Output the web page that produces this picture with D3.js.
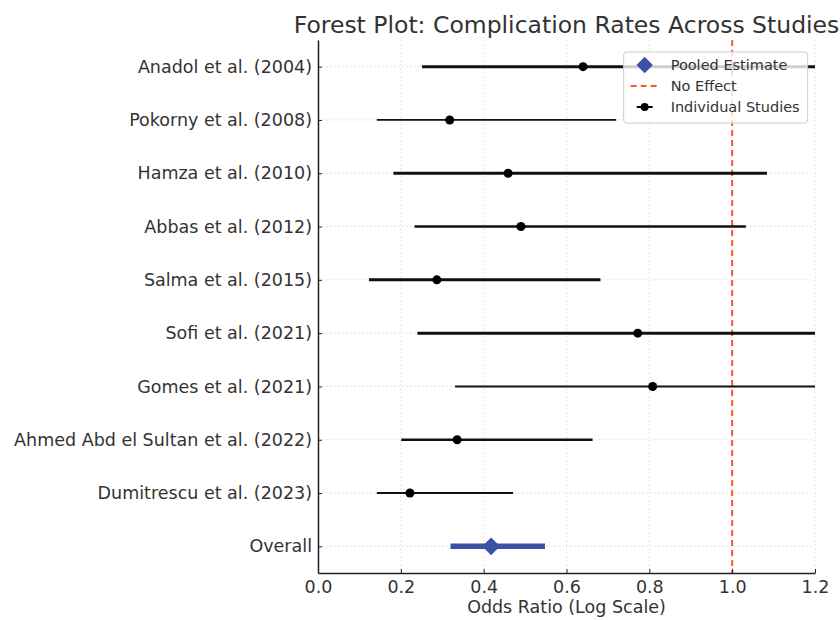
<!DOCTYPE html>
<html>
<head>
<meta charset="utf-8">
<script src="https://cdn.jsdelivr.net/npm/d3@7"></script>
<style>
  body { margin: 0; background: #fff; }
  text { font-family: "DejaVu Sans", sans-serif; fill: #333; }
</style>
</head>
<body>
<div id="chart"></div>
<script>
// studies, top to bottom
const studies = [
  "Anadol et al. (2004)",
  "Pokorny et al. (2008)",
  "Hamza et al. (2010)",
  "Abbas et al. (2012)",
  "Salma et al. (2015)",
  "Sofi et al. (2021)",
  "Gomes et al. (2021)",
  "Ahmed Abd el Sultan et al. (2022)",
  "Dumitrescu et al. (2023)"
];
const oddsRatio = [0.64, 0.318, 0.459, 0.49, 0.287, 0.772, 0.808, 0.336, 0.222];
const ciLower = [0.251, 0.142, 0.182, 0.233, 0.123, 0.24, 0.331, 0.201, 0.142];
const ciUpper = [1.62, 0.72, 1.084, 1.033, 0.682, 1.85, 1.95, 0.663, 0.471];
// relative study weight (drawn as line thickness)
const weights = [3, 1.8, 2.8, 2.5, 3, 3, 2, 2.5, 2];

const pooled = { label: "Overall", or: 0.418, lower: 0.32, upper: 0.548 };
const xTicks = [0, 0.2, 0.4, 0.6, 0.8, 1.0, 1.2];

const margin = { top: 40, right: 25, bottom: 47, left: 318 };
const W = 840, H = 620;
const width = W - margin.left - margin.right;
const height = H - margin.top - margin.bottom;

const svg = d3.select("#chart").append("svg")
  .attr("width", W).attr("height", H);

const g = svg.append("g")
  .attr("transform", `translate(${margin.left},${margin.top})`);

const x = d3.scaleLinear().domain([0, 1.2]).range([0, width]);
const y = d3.scalePoint()
  .domain([...studies, pooled.label])
  .range([0, height])
  .padding(0.5);
const lw = d3.scaleLinear().domain([1, 3]).range([1, 3]);

svg.append("defs").append("clipPath").attr("id", "clip")
  .append("rect").attr("width", width).attr("height", height);

// grid
const grid = g.append("g");
grid.selectAll(".vg").data(xTicks).join("line")
  .attr("x1", d => x(d)).attr("x2", d => x(d))
  .attr("y1", 0).attr("y2", height)
  .attr("stroke", "#ddd").attr("stroke-width", 0.8).attr("stroke-dasharray", "2,2");
grid.selectAll(".hg").data(y.domain()).join("line")
  .attr("x1", 0).attr("x2", width)
  .attr("y1", d => y(d)).attr("y2", d => y(d))
  .attr("stroke", "#ddd").attr("stroke-width", 0.8).attr("stroke-dasharray", "2,2");

const plot = g.append("g").attr("clip-path", "url(#clip)");

// no-effect line
plot.append("line")
  .attr("x1", x(1)).attr("x2", x(1))
  .attr("y1", 0).attr("y2", height)
  .attr("stroke", "#ff5533").attr("stroke-width", 2)
  .attr("stroke-dasharray", "6,4");

const rows = studies.map((s, i) => ({
  name: s, or: oddsRatio[i], lo: ciLower[i], hi: ciUpper[i], w: weights[i]
}));

plot.selectAll(".ci").data(rows).join("line")
  .attr("x1", d => x(d.lo)).attr("x2", d => x(d.hi))
  .attr("y1", d => y(d.name)).attr("y2", d => y(d.name))
  .attr("stroke", "#111").attr("stroke-width", d => lw(d.w));

plot.selectAll(".pt").data(rows).join("circle")
  .attr("cx", d => x(d.or)).attr("cy", d => y(d.name))
  .attr("r", 4.5).attr("fill", "#000");

// pooled estimate
const blue = "#3a52a6";
plot.append("line")
  .attr("x1", x(pooled.lower)).attr("x2", x(pooled.upper))
  .attr("y1", y(pooled.label)).attr("y2", y(pooled.label))
  .attr("stroke", blue).attr("stroke-width", 5.5);
plot.append("path")
  .attr("d", d3.symbol(d3.symbolDiamond2, 200)())
  .attr("transform", `translate(${x(pooled.or)},${y(pooled.label)})`)
  .attr("fill", blue);

// axes
const xAxis = g.append("g")
  .attr("transform", `translate(0,${height})`)
  .call(d3.axisBottom(x).tickValues(xTicks).tickFormat(d3.format(".1f"))
    .tickSizeInner(-4).tickSizeOuter(0).tickPadding(8));
const yAxis = g.append("g")
  .call(d3.axisLeft(y).tickSizeInner(-4).tickSizeOuter(0).tickPadding(6));

[xAxis, yAxis].forEach(a => {
  a.select(".domain").attr("stroke", "#222").attr("stroke-width", 1.5);
  a.selectAll(".tick line").attr("stroke", "#222");
  a.selectAll("text").attr("font-size", 17.5).attr("fill", "#333");
});

// labels
svg.append("text")
  .attr("x", margin.left + width / 2).attr("y", 33)
  .attr("text-anchor", "middle").attr("font-size", 23.5)
  .text("Forest Plot: Complication Rates Across Studies");

svg.append("text")
  .attr("x", margin.left + width / 2).attr("y", 613)
  .attr("text-anchor", "middle").attr("font-size", 17.5)
  .text("Odds Ratio (Log Scale)");

// legend
const lg = g.append("g").attr("transform", `translate(${x(0.738)},12)`);
lg.append("rect")
  .attr("width", 184).attr("height", 71).attr("rx", 3)
  .attr("fill", "#fff").attr("fill-opacity", 0.8)
  .attr("stroke", "#ccc");
lg.append("path")
  .attr("d", d3.symbol(d3.symbolDiamond2, 170)())
  .attr("transform", "translate(21,13)").attr("fill", blue);
lg.append("line")
  .attr("x1", 7).attr("x2", 35).attr("y1", 34).attr("y2", 34)
  .attr("stroke", "#ff5533").attr("stroke-width", 2).attr("stroke-dasharray", "6,4");
lg.append("line")
  .attr("x1", 13).attr("x2", 29).attr("y1", 55).attr("y2", 55)
  .attr("stroke", "#000").attr("stroke-width", 2);
lg.append("circle").attr("cx", 21).attr("cy", 55).attr("r", 4).attr("fill", "#000");
const legendLabels = ["Pooled Estimate", "No Effect", "Individual Studies"];
lg.selectAll(".lt").data(legendLabels).join("text")
  .attr("x", 47).attr("y", (d, i) => 13 + i * 21)
  .attr("dy", "0.35em").attr("font-size", 14.5)
  .text(d => d);
</script>
</body>
</html>
